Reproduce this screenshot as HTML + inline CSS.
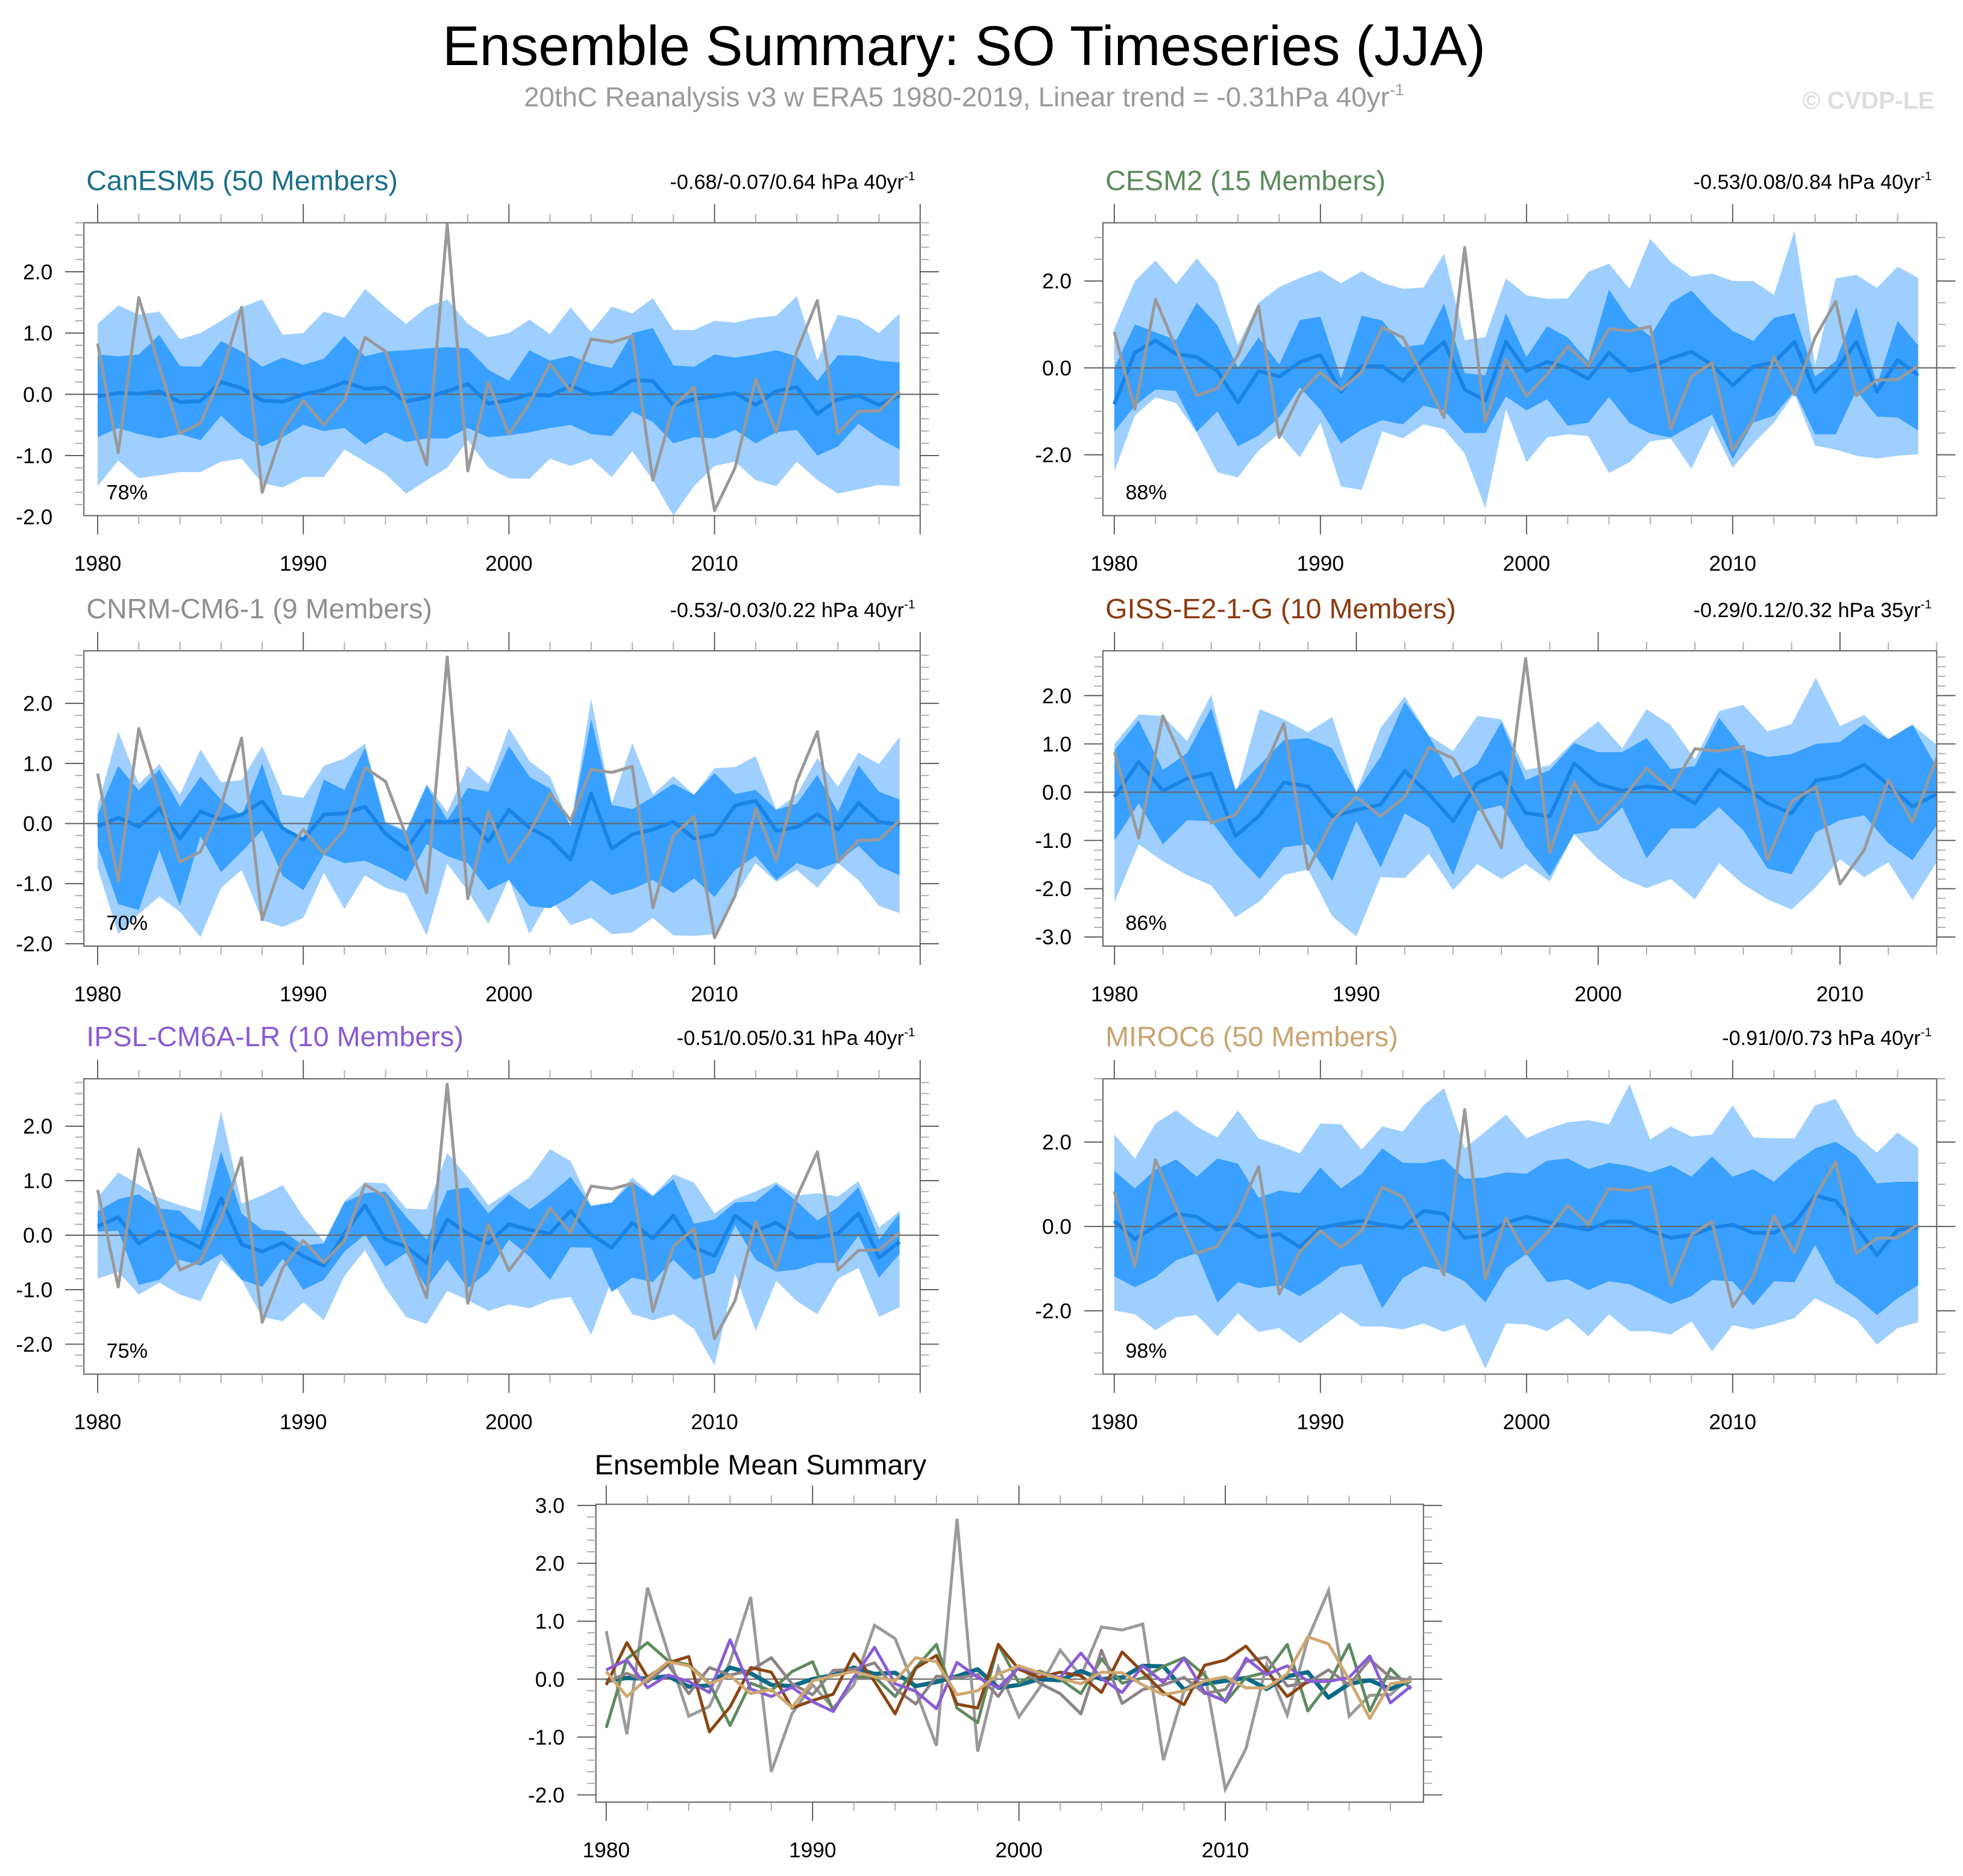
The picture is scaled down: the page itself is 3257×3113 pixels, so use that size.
<!DOCTYPE html>
<html><head><meta charset="utf-8"><style>
html,body{margin:0;padding:0;background:#fff;}
svg{display:block;font-family:"Liberation Sans",Arial,sans-serif;}
</style></head><body>
<svg id="chart" xmlns="http://www.w3.org/2000/svg" width="3257" height="3113" viewBox="0 0 1568 1499" preserveAspectRatio="none">
<text x="770" y="52" text-anchor="middle" font-size="44.5" fill="#000">Ensemble Summary: SO Timeseries (JJA)</text>
<text x="770" y="85" text-anchor="middle" font-size="22" fill="#9a9a9a">20thC Reanalysis v3 w ERA5 1980-2019, Linear trend = -0.31hPa 40yr<tspan dy="-9" font-size="13">-1</tspan></text>
<text x="1545" y="87" text-anchor="end" font-size="19.5" font-weight="bold" fill="#dddddd">© CVDP-LE</text>
</svg>
<script>
// ---- data (hPa anomalies) ----
const years40 = [1980,1981,1982,1983,1984,1985,1986,1987,1988,1989,1990,1991,1992,1993,1994,1995,1996,1997,1998,1999,2000,2001,2002,2003,2004,2005,2006,2007,2008,2009,2010,2011,2012,2013,2014,2015,2016,2017,2018,2019];
const obs = [0.83,-0.95,1.58,0.45,-0.64,-0.47,0.3,1.42,-1.6,-0.6,-0.1,-0.5,-0.1,0.93,0.7,-0.2,-1.15,2.77,-1.25,0.2,-0.65,-0.15,0.5,0.05,0.9,0.85,0.95,-1.4,-0.2,0.12,-1.9,-1.2,0.25,-0.62,0.7,1.53,-0.64,-0.28,-0.27,0.05];

const canMean = [-0.03,0.02,0.01,0.05,-0.13,-0.11,0.2,0.1,-0.1,-0.12,0.0,0.07,0.2,0.09,0.11,-0.12,-0.05,0.05,0.17,-0.15,-0.1,0.0,-0.02,0.14,0.0,0.03,0.23,0.22,-0.18,-0.08,-0.03,0.02,-0.17,0.05,0.12,-0.32,-0.08,-0.02,-0.17,-0.02];
const canDU = [0.65,0.62,0.65,0.97,0.46,0.45,0.87,0.7,0.45,0.6,0.48,0.58,0.95,0.62,0.7,0.72,0.75,0.77,0.75,0.4,0.22,0.72,0.55,0.63,0.5,0.43,1.0,1.08,0.47,0.45,0.65,0.6,0.65,0.72,0.62,0.22,0.64,0.63,0.55,0.52];
const canDL = [-0.7,-0.55,-0.65,-0.72,-0.65,-0.75,-0.35,-0.66,-0.85,-0.7,-0.5,-0.6,-0.55,-0.82,-0.62,-0.78,-0.72,-0.72,-0.55,-0.7,-0.67,-0.62,-0.55,-0.5,-0.65,-0.68,-0.28,-0.45,-0.8,-0.7,-0.72,-0.58,-0.8,-0.62,-0.58,-1.0,-0.85,-0.48,-0.72,-0.9];
const canLU = [1.15,1.45,1.3,1.35,0.9,1.0,1.2,1.42,1.55,0.97,1.0,1.35,1.25,1.72,1.42,1.15,1.42,1.55,1.15,0.93,1.0,1.22,0.98,1.42,1.02,1.43,1.32,1.57,1.05,1.05,1.2,1.17,1.25,1.28,1.6,0.55,1.3,1.22,1.0,1.32];
const canLL = [-1.5,-1.08,-1.37,-1.32,-1.27,-1.27,-1.1,-1.05,-1.45,-1.52,-1.35,-1.35,-0.9,-1.1,-1.3,-1.62,-1.4,-1.2,-0.75,-1.2,-1.37,-1.38,-1.05,-1.17,-1.05,-1.35,-0.93,-1.4,-1.98,-1.5,-1.17,-1.1,-1.4,-1.5,-1.1,-1.4,-1.62,-1.55,-1.48,-1.5];

const cesMean = [-0.84,0.35,0.63,0.32,0.25,-0.07,-0.8,-0.07,-0.2,0.13,0.3,-0.55,0.04,0.04,-0.3,0.2,0.6,-0.5,-0.75,0.6,-0.07,0.14,0.0,-0.25,0.35,-0.07,0.02,0.22,0.37,0.07,-0.4,0.03,0.12,0.6,-0.55,-0.08,0.6,-0.55,0.18,-0.17];
const cesDU = [0.0,1.0,0.82,0.64,1.5,0.98,0.0,0.7,0.08,1.1,1.18,-0.24,1.2,1.09,0.48,0.54,1.48,-0.12,-0.17,1.26,0.25,0.96,0.7,0.15,1.8,1.1,0.73,1.5,1.78,1.26,0.85,0.62,1.15,1.26,-0.2,0.15,1.4,-0.4,1.08,0.52];
const cesDL = [-1.47,-0.87,-0.5,-0.53,-1.47,-1.0,-1.8,-1.56,-1.14,-0.45,-0.96,-1.74,-1.42,-1.2,-1.3,-0.87,-0.98,-1.5,-1.5,-0.66,-0.98,-0.72,-1.33,-1.26,-0.67,-1.27,-1.51,-1.6,-1.33,-1.07,-2.1,-1.26,-1.1,-0.54,-1.53,-1.53,-0.52,-1.12,-1.14,-1.44];
const cesLU = [0.9,2.0,2.47,1.93,2.52,1.96,0.52,1.5,1.86,2.07,2.24,1.95,2.22,1.96,1.82,1.85,2.63,0.64,0.71,2.06,1.67,1.59,1.6,2.21,2.4,1.82,2.97,2.44,2.1,2.17,2.0,2.0,1.68,3.16,0.06,2.06,2.14,1.84,2.33,2.07];
const cesLL = [-2.39,-1.1,-0.68,-0.81,-1.49,-2.4,-2.52,-1.9,-1.51,-2.06,-1.26,-2.73,-2.81,-1.46,-1.62,-1.3,-1.41,-1.97,-3.23,-0.95,-2.17,-1.6,-1.53,-1.57,-2.42,-2.17,-1.69,-1.63,-2.32,-1.33,-2.3,-1.74,-1.26,-0.59,-1.79,-1.88,-2.02,-2.09,-2.02,-1.99];

const cnrMean = [-0.05,0.1,-0.05,0.25,-0.25,0.2,0.07,0.15,0.37,-0.08,-0.27,0.15,0.17,0.28,-0.17,-0.43,0.05,0.02,0.08,-0.3,0.23,-0.07,-0.25,-0.6,0.5,-0.42,-0.18,-0.1,0.03,-0.25,-0.18,0.3,0.38,-0.12,-0.06,0.16,-0.1,0.34,0.03,-0.02];
const cnrDU = [0.15,0.96,0.55,0.9,0.28,0.78,0.4,0.13,1.0,-0.07,-0.29,0.73,0.56,1.26,0.01,-0.14,0.63,0.06,0.59,0.53,1.29,0.78,0.58,-0.04,1.74,0.31,0.24,0.44,0.66,0.48,0.84,0.49,0.56,0.23,0.33,0.81,0.19,0.97,0.53,0.4];
const cnrDL = [-0.37,-1.34,-1.44,-0.44,-1.37,-0.21,-0.81,-0.47,-0.11,-0.87,-1.11,-0.52,-0.66,-0.62,-0.77,-0.96,-0.34,-0.54,-0.66,-1.11,-0.94,-1.37,-1.41,-1.22,-0.94,-1.19,-1.09,-0.94,-1.16,-0.91,-1.22,-0.77,-0.54,-0.94,-0.66,-0.77,-0.64,-0.37,-0.71,-0.86];
const cnrLU = [0.29,1.53,0.66,0.99,0.48,1.23,0.69,0.72,1.29,0.48,0.43,0.96,1.08,1.33,0.03,-0.11,0.66,0.19,0.96,0.66,1.59,1.04,0.78,-0.04,2.08,0.33,1.34,0.48,0.79,0.48,0.92,0.94,1.12,0.23,0.48,1.09,0.61,1.18,0.99,1.44];
const cnrLL = [-0.74,-1.84,-1.51,-1.21,-1.47,-1.89,-1.07,-0.77,-1.61,-1.72,-1.57,-0.82,-1.42,-0.86,-1.07,-1.17,-1.86,-0.67,-1.12,-1.67,-0.92,-1.84,-1.24,-1.69,-1.57,-1.84,-1.81,-1.57,-1.86,-1.87,-1.84,-1.21,-0.66,-0.97,-0.77,-1.07,-0.66,-0.94,-1.37,-1.49];

const gisMean = [-0.1,0.63,0.03,0.28,0.39,-0.91,-0.48,0.2,0.12,-0.5,-0.37,-0.26,0.44,-0.04,-0.6,0.19,0.41,-0.43,-0.5,0.6,0.17,0.03,0.12,0.06,-0.23,0.47,0.12,-0.23,-0.44,0.24,0.33,0.57,0.15,-0.3,-0.04];
const gisDU = [0.87,1.49,0.46,0.81,1.74,0.05,0.56,1.08,1.12,0.91,0.0,0.73,1.87,1.16,0.29,0.58,1.45,0.25,0.46,1.02,0.83,0.83,1.12,0.48,0.54,1.54,0.89,0.73,0.79,1.0,1.04,1.42,1.1,1.4,0.52];
const gisDL = [-1.0,-0.23,-1.08,-0.58,-0.6,-1.27,-1.8,-1.14,-1.08,-1.84,-0.6,-1.56,-0.44,-0.73,-1.72,-0.39,-0.27,-1.12,-1.74,-0.87,-0.79,-0.31,-1.37,-0.75,-0.75,-0.31,-0.79,-1.58,-1.7,-0.83,-0.58,-0.48,-1.06,-1.41,-0.68];
const gisLU = [1.0,1.61,1.58,1.06,2.02,-0.08,1.72,1.51,1.24,1.56,0.0,1.33,1.98,1.18,0.85,1.58,1.51,0.46,0.56,1.06,1.47,0.91,1.72,1.39,0.68,1.68,1.81,1.26,1.41,2.37,1.37,1.6,1.1,1.39,0.98];
const gisLL = [-2.28,-1.08,-1.43,-1.72,-1.93,-2.59,-2.26,-1.72,-1.6,-2.57,-2.99,-1.76,-1.78,-1.27,-2.03,-1.49,-1.8,-1.49,-1.85,-0.87,-1.39,-1.78,-1.99,-1.8,-2.22,-1.47,-1.91,-2.22,-2.43,-1.97,-1.39,-1.76,-1.45,-2.24,-1.45];

const ipsMean = [0.16,0.33,-0.15,0.07,-0.04,-0.23,0.68,-0.17,-0.3,-0.14,-0.39,-0.56,0.03,0.55,-0.08,-0.21,-0.51,0.29,0.03,-0.15,0.2,0.1,0.03,0.45,0.01,-0.23,0.23,-0.06,0.36,-0.23,-0.38,0.36,0.08,0.23,-0.04,-0.04,0.03,0.4,-0.41,-0.12];
const ipsDU = [0.44,0.66,0.75,0.49,0.45,0.07,1.54,0.4,0.1,0.08,-0.19,-0.15,0.6,0.77,0.8,0.34,-0.08,0.82,0.88,0.4,0.75,0.47,0.75,1.07,0.53,0.6,0.97,0.71,1.03,0.21,0.29,0.6,0.62,0.93,0.62,0.27,0.51,0.88,-0.08,0.4];
const ipsDL = [0.07,0.08,-0.91,-0.82,-0.45,-0.56,-0.34,-0.82,-0.95,-0.43,-1.0,-0.82,-0.3,0.01,-0.58,-0.32,-0.97,-0.45,-0.97,-0.67,-0.08,-0.39,-0.82,-0.22,-0.23,-1.04,-0.78,-0.86,-0.45,-0.82,-0.69,0.18,-0.45,-0.67,-0.63,-0.51,-0.51,-0.01,-0.78,-0.34];
const ipsLU = [0.69,1.15,0.93,0.68,0.55,0.44,2.28,0.58,0.73,0.92,0.34,-0.12,0.62,0.97,0.95,0.49,0.47,1.51,1.06,0.55,0.8,1.06,1.58,1.36,0.55,0.6,1.06,0.73,1.12,0.97,0.4,0.66,0.8,0.97,0.73,0.77,0.71,0.99,0.14,0.44];
const ipsLL = [-0.8,-0.67,-1.09,-0.87,-1.09,-1.21,-0.45,-0.82,-1.5,-1.58,-1.23,-1.56,-0.75,-0.27,-0.97,-1.5,-1.63,-1.02,-1.19,-1.39,-1.27,-1.34,-1.19,-1.13,-1.83,-0.82,-1.45,-1.56,-1.45,-1.72,-2.39,-0.71,-1.76,-0.84,-1.21,-1.45,-0.8,-0.6,-1.5,-1.32];

const mirMean = [0.13,-0.3,0.01,0.3,0.23,-0.08,0.06,-0.25,-0.18,-0.49,-0.03,0.06,0.13,0.04,-0.03,0.37,0.3,-0.27,-0.2,0.09,0.23,0.11,0.01,-0.08,0.12,0.11,-0.1,-0.27,-0.2,-0.03,0.04,-0.15,-0.15,0.09,0.73,0.61,-0.01,-0.68,-0.08,-0.03];
const mirDU = [1.32,0.9,1.35,1.59,1.18,1.61,1.49,0.68,0.85,0.79,1.4,0.9,1.25,1.85,1.51,1.5,1.6,1.13,1.16,1.28,1.25,1.56,1.61,1.36,1.51,1.43,1.28,1.45,1.18,1.66,1.18,1.36,1.06,1.51,1.85,2.01,1.68,1.02,1.06,1.06];
const mirDL = [-1.18,-1.44,-1.2,-0.8,-0.63,-1.8,-1.32,-1.46,-1.39,-1.65,-1.34,-0.96,-0.89,-1.94,-1.22,-0.94,-1.06,-1.3,-1.8,-0.99,-0.65,-1.32,-1.25,-1.51,-1.3,-1.37,-1.6,-1.84,-1.65,-1.27,-1.3,-1.87,-1.3,-1.32,-0.44,-1.34,-1.68,-2.1,-1.7,-1.39];
const mirLU = [2.18,1.61,2.44,2.75,2.37,2.11,2.75,2.09,1.92,1.73,2.44,2.42,1.82,2.37,2.25,2.87,3.28,1.85,2.25,2.65,2.09,2.31,2.47,2.52,2.42,3.37,2.06,2.37,2.13,2.18,2.87,2.11,2.09,2.09,2.87,3.02,2.16,1.75,2.23,1.87];
const mirLL = [-1.99,-2.08,-2.46,-2.15,-2.1,-2.6,-2.06,-2.5,-2.41,-2.77,-2.41,-2.04,-2.37,-2.37,-2.44,-2.3,-2.5,-2.32,-3.37,-2.3,-2.32,-2.48,-2.17,-2.6,-2.08,-2.48,-2.48,-2.56,-2.25,-2.96,-2.34,-2.44,-2.32,-2.17,-1.7,-1.94,-2.2,-2.8,-2.41,-2.27];

const modelNames = ["CanESM5 (50 Members)","CESM2 (15 Members)","CNRM-CM6-1 (9 Members)","GISS-E2-1-G (10 Members)","IPSL-CM6A-LR (10 Members)","MIROC6 (50 Members)"];
const trendLabels = ["-0.68/-0.07/0.64 hPa 40yr","-0.53/0.08/0.84 hPa 40yr","-0.53/-0.03/0.22 hPa 40yr","-0.29/0.12/0.32 hPa 35yr","-0.51/0.05/0.31 hPa 40yr","-0.91/0/0.73 hPa 40yr"];
const pctLabels = ["78%","88%","70%","86%","75%","98%"];
const xTickYears = [1980,1990,2000,2010];

// ---- layout ----
const NS = "http://www.w3.org/2000/svg";
const svg = document.getElementById("chart");
const titleColors = ["#1a6f8a","#5b8a5b","#8f8f8f","#8b3a0f","#8a5ad5","#c9a370"];
const lineColors = ["#0b6a88","#5e8a5e","#8d8387","#8b4513","#8a5cd6","#cfa770"];
const panels = [
  {x0:67,x1:735,y0:178,y1:412,xmin:1979.33,xmax:2020,ymin:-1.98,ymax:2.8,lab:[-2,-1,0,1,2],minor:0.2,key:"can"},
  {x0:881,x1:1547,y0:178,y1:412,xmin:1979.45,xmax:2019.9,ymin:-3.4,ymax:3.34,lab:[-2,0,2],minor:0.5,key:"ces"},
  {x0:67,x1:735,y0:520,y1:756,xmin:1979.33,xmax:2020,ymin:-2.04,ymax:2.875,lab:[-2,-1,0,1,2],minor:0.2,key:"cnr"},
  {x0:881,x1:1547,y0:520,y1:756,xmin:1979.52,xmax:2014,ymin:-3.19,ymax:2.93,lab:[-3,-2,-1,0,1,2],minor:0.2,key:"gis"},
  {x0:67,x1:735,y0:862,y1:1098,xmin:1979.33,xmax:2020,ymin:-2.55,ymax:2.87,lab:[-2,-1,0,1,2],minor:0.2,key:"ips"},
  {x0:881,x1:1547,y0:862,y1:1098,xmin:1979.45,xmax:2019.9,ymin:-3.5,ymax:3.5,lab:[-2,0,2],minor:0.5,key:"mir"}
];
const series = {
  can:[canMean,canDU,canDL,canLU,canLL], ces:[cesMean,cesDU,cesDL,cesLU,cesLL],
  cnr:[cnrMean,cnrDU,cnrDL,cnrLU,cnrLL], gis:[gisMean,gisDU,gisDL,gisLU,gisLL],
  ips:[ipsMean,ipsDU,ipsDL,ipsLU,ipsLL], mir:[mirMean,mirDU,mirDL,mirLU,mirLL]
};

function el(tag, parent){ const e=document.createElementNS(NS,tag); (parent||svg).appendChild(e); return e; }
function sx(p,v){ return p.x0+(v-p.xmin)/(p.xmax-p.xmin)*(p.x1-p.x0); }
function sy(p,v){ return p.y1-(v-p.ymin)/(p.ymax-p.ymin)*(p.y1-p.y0); }
function fmt(v){ return v.toFixed(1); }

function drawAxes(p, g, idx){
  const box=el("rect",g);
  
  
  box.setAttribute("x",p.x0);box.setAttribute("y",p.y0);box.setAttribute("width",p.x1-p.x0);box.setAttribute("height",p.y1-p.y0);
  box.setAttribute("fill","none");box.setAttribute("stroke","#666");box.setAttribute("stroke-width","1");
  for(let yr=1980; yr<=p.xmax+0.001; yr+=2){
    const major=(yr%10===0), len=major?15:7, x=sx(p,yr);
    [[p.y0,p.y0-len],[p.y1,p.y1+len]].forEach(a=>{
      const t=el("line",g);
      
      
      t.setAttribute("x1",x);t.setAttribute("x2",x);t.setAttribute("y1",a[0]);t.setAttribute("y2",a[1]);
      t.setAttribute("stroke",major?"#555":"#aaa");t.setAttribute("stroke-width","0.9");
    });
  }
  xTickYears.forEach(yr=>{
    if(yr>p.xmax) return;
    const t=el("text",g);
    
    
    t.setAttribute("x",sx(p,yr));t.setAttribute("y",p.y1+44);t.setAttribute("text-anchor","middle");t.setAttribute("font-size","17");
    t.textContent=yr;
  });
  const n0=Math.ceil(p.ymin/p.minor-1e-6), n1=Math.floor(p.ymax/p.minor+1e-6);
  for(let k=n0;k<=n1;k++){
    const v=k*p.minor, major=p.lab.some(l=>Math.abs(l-v)<1e-6), len=major?15:7, y=sy(p,v);
    [[p.x0,p.x0-len],[p.x1,p.x1+len]].forEach(a=>{
      const t=el("line",g);
      
      
      t.setAttribute("x1",a[0]);t.setAttribute("x2",a[1]);t.setAttribute("y1",y);t.setAttribute("y2",y);
      t.setAttribute("stroke",major?"#555":"#aaa");t.setAttribute("stroke-width","0.9");
    });
  }
  p.lab.forEach(v=>{
    const t=el("text",g);
    
    
    t.setAttribute("x",p.x0-25);t.setAttribute("y",sy(p,v)+6);t.setAttribute("text-anchor","end");t.setAttribute("font-size","17");
    t.textContent=fmt(v);
  });
}

function poly(p, xs, up, lo){
  const pts=[];
  for(let i=0;i<up.length;i++) pts.push(sx(p,xs[i])+","+sy(p,up[i]));
  for(let i=lo.length-1;i>=0;i--) pts.push(sx(p,xs[i])+","+sy(p,lo[i]));
  return pts.join(" ");
}
function line(p, xs, vals){
  return vals.map((v,i)=>sx(p,xs[i])+","+sy(p,v)).join(" ");
}

panels.forEach((p,idx)=>{
  const g=el("g");
  
  
  const s=series[p.key], n=s[0].length, xs=years40.slice(0,n), ob=obs.slice(0,n);
  const cid="clip"+idx, cp=el("clipPath",g); cp.setAttribute("id",cid);
  const cr=el("rect",cp); cr.setAttribute("x",p.x0);cr.setAttribute("y",p.y0);cr.setAttribute("width",p.x1-p.x0);cr.setAttribute("height",p.y1-p.y0);
  const inner=el("g",g); inner.setAttribute("clip-path","url(#"+cid+")");
  
  
  const lb=el("polygon",inner);
  
  
  lb.setAttribute("points",poly(p,xs,s[3],s[4]));lb.setAttribute("fill","#9ecfff");
  const db=el("polygon",inner);
  
  
  db.setAttribute("points",poly(p,xs,s[1],s[2]));db.setAttribute("fill","#3aa0ff");
  const z=el("line",inner);
  
  
  z.setAttribute("x1",p.x0);z.setAttribute("x2",p.x1);z.setAttribute("y1",sy(p,0));z.setAttribute("y2",sy(p,0));z.setAttribute("stroke","#666");z.setAttribute("stroke-width","1");
  const ml=el("polyline",inner);
  
  
  ml.setAttribute("points",line(p,xs,s[0]));ml.setAttribute("fill","none");ml.setAttribute("stroke","#1a84e6");ml.setAttribute("stroke-width","3");ml.setAttribute("stroke-linejoin","round");
  const ol=el("polyline",inner);
  
  
  ol.setAttribute("points",line(p,xs,ob));ol.setAttribute("fill","none");ol.setAttribute("stroke","#999");ol.setAttribute("stroke-width","2.4");ol.setAttribute("stroke-linejoin","round");
  drawAxes(p,g,idx);
  const tt=el("text",g);
  
  
  tt.setAttribute("x",p.x0+2);tt.setAttribute("y",p.y0-26);tt.setAttribute("font-size","22.5");tt.setAttribute("fill",titleColors[idx]);
  tt.textContent=modelNames[idx];
  const tr=el("text",g);
  
  
  tr.setAttribute("x",p.x1-4);tr.setAttribute("y",p.y0-27);tr.setAttribute("font-size","16.5");tr.setAttribute("text-anchor","end");
  tr.textContent=trendLabels[idx];
  const sup=el("tspan",tr); sup.setAttribute("dy","-7"); sup.setAttribute("font-size","10"); sup.textContent="-1";
  const pc=el("text",g);
  
  
  pc.setAttribute("x",p.x0+18);pc.setAttribute("y",p.y1-13);pc.setAttribute("font-size","16.5");
  pc.textContent=pctLabels[idx];
});

// ---- summary chart ----
const sp={x0:476,x1:1137,y0:1202,y1:1440,xmin:1979.5,xmax:2019.6,ymin:-2.125,ymax:3.02,lab:[-2,-1,0,1,2,3],minor:0.2};
const sg=el("g");


const scp=el("clipPath",sg); scp.setAttribute("id","clipS");
const scr=el("rect",scp); scr.setAttribute("x",sp.x0);scr.setAttribute("y",sp.y0);scr.setAttribute("width",sp.x1-sp.x0);scr.setAttribute("height",sp.y1-sp.y0);
const sin=el("g",sg); sin.setAttribute("clip-path","url(#clipS)");


const sz=el("line",sin);


sz.setAttribute("x1",sp.x0);sz.setAttribute("x2",sp.x1);sz.setAttribute("y1",sy(sp,0));sz.setAttribute("y2",sy(sp,0));sz.setAttribute("stroke","#666");sz.setAttribute("stroke-width","1");
const so=el("polyline",sin);


so.setAttribute("points",line(sp,years40,obs));so.setAttribute("fill","none");so.setAttribute("stroke","#9a9a9a");so.setAttribute("stroke-width","2.4");
const order=["can","ces","cnr","gis","ips","mir"];
order.forEach((k,i)=>{
  const m=series[k][0];
  const pl=el("polyline",sin);
  
  
  pl.setAttribute("points",line(sp,years40.slice(0,m.length),m));pl.setAttribute("fill","none");
  pl.setAttribute("stroke",lineColors[i]);pl.setAttribute("stroke-width",k==="can"?"3.4":"2.4");pl.setAttribute("stroke-linejoin","round");
});
drawAxes(sp,sg,6);
const st=el("text",sg);


st.setAttribute("x",475);st.setAttribute("y",1178);st.setAttribute("font-size","22.5");
st.textContent="Ensemble Mean Summary";
</script>
</body></html>
